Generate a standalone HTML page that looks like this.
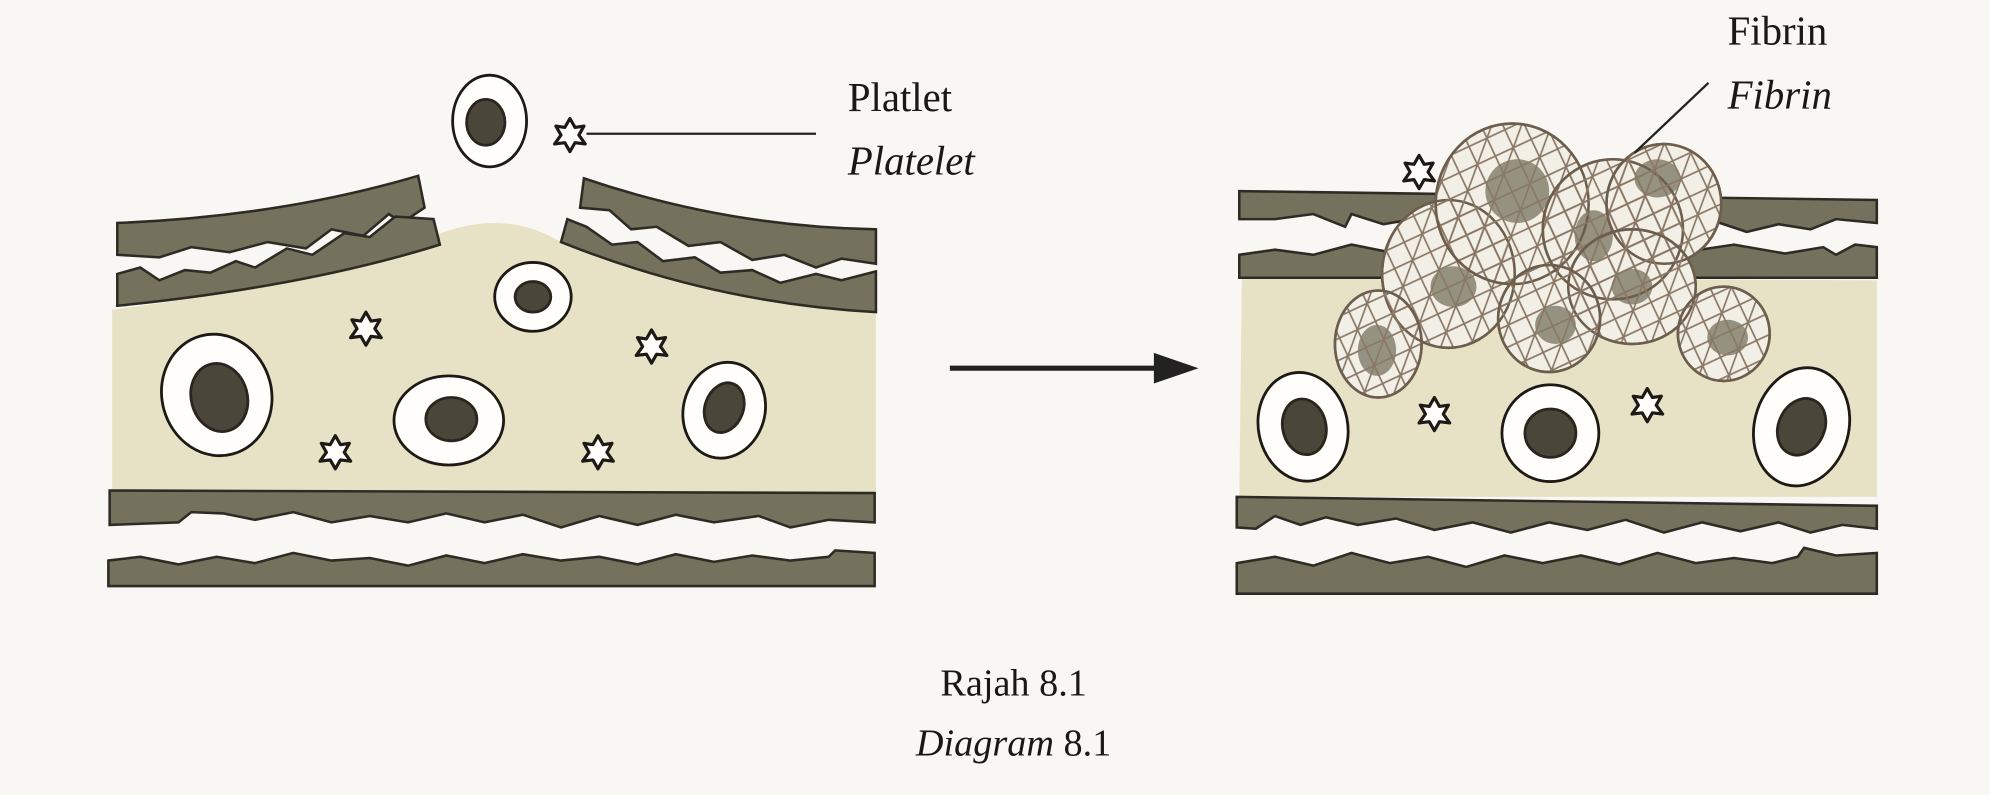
<!DOCTYPE html>
<html><head><meta charset="utf-8"><style>
html,body{margin:0;padding:0;background:#f8f7f3;}
svg{display:block}
text{font-family:"Liberation Serif",serif;fill:#1a1714}
</style></head><body>
<svg width="1989" height="795" viewBox="0 0 1560 624" preserveAspectRatio="none" xmlns="http://www.w3.org/2000/svg">
<defs>
<pattern id="mesh" width="22" height="22" patternUnits="userSpaceOnUse" patternTransform="rotate(20)">
<path d="M0 0L22 22M22 0L0 22M11 0V22" stroke="#8a7866" stroke-width="1.3"/>
</pattern>
<path id="pl" d="M0 -13 L4 -6 L11 -7 L7 0 L12 7 L4 6 L0 13 L-4 6 L-12 7 L-7 0 L-11 -7 L-4 -6 Z"/>
</defs>
<rect width="1560" height="624" fill="#f8f7f3"/>
<g stroke="#2e2b24" stroke-width="2">
<path d="M88 243 Q230 225 330 190 Q390 160 440 190 Q560 235 687 245 L687 387 L88 387 Z" fill="#e7e2c6" stroke="none"/>
<path d="M92 175 Q220 170 328 138 L333 163 L315 175 L305 168 L285 185 L260 180 L240 195 L210 190 L180 198 L150 194 L125 202 L92 200 Z" fill="#74725d"/>
<path d="M92 215 L110 210 L125 220 L145 212 L165 214 L185 205 L200 210 L225 195 L245 200 L270 183 L290 186 L310 170 L340 172 L345 192 Q240 225 92 240 Z" fill="#74725d"/>
<path d="M458 140 Q570 178 687 180 L687 207 L660 203 L640 210 L615 200 L590 204 L565 190 L540 193 L515 178 L495 180 L478 165 L455 163 Z" fill="#74725d"/>
<path d="M445 172 L460 178 L480 192 L500 190 L520 205 L545 202 L565 214 L590 212 L612 222 L640 215 L660 220 L687 213 L687 245 Q560 238 440 190 Z" fill="#74725d"/>
<path d="M86 385 L686 387 L686 410 L650 408 L620 414 L595 405 L560 410 L530 404 L500 412 L470 405 L440 414 L410 404 L380 410 L350 403 L320 410 L290 405 L260 410 L230 402 L200 408 L175 403 L150 402 L140 410 L86 412 Z" fill="#74725d"/>
<path d="M85 440 L110 437 L140 443 L170 437 L200 442 L230 434 L260 440 L290 438 L320 444 L350 436 L380 442 L410 435 L440 440 L470 437 L500 443 L530 435 L560 441 L590 436 L620 440 L650 437 L655 432 L686 434 L686 460 L85 460 Z" fill="#74725d"/>
<path d="M974 218 L1472 220 L1472 390 L972 390 Z" fill="#e7e2c6" stroke="none"/>
<path d="M972 150 L1472 157 L1472 175 L1440 172 L1420 180 L1395 176 L1370 182 L1340 172 L1300 178 L1270 170 L1240 176 L1200 170 L1160 174 L1120 170 L1085 176 L1060 168 L1055 178 L1030 168 L1000 172 L972 172 Z" fill="#74725d"/>
<path d="M972 200 L1000 196 L1030 200 L1060 192 L1090 198 L1120 192 L1160 198 L1200 192 L1240 198 L1280 192 L1320 198 L1360 192 L1400 199 L1430 194 L1440 200 L1455 192 L1472 194 L1472 218 L972 218 Z" fill="#74725d"/>
<path d="M970 390 L1472 397 L1472 415 L1445 412 L1420 418 L1395 410 L1365 417 L1335 410 L1305 418 L1275 408 L1245 416 L1215 410 L1185 418 L1155 410 L1125 416 L1095 407 L1065 412 L1040 406 L1020 412 L1000 405 L985 415 L970 414 Z" fill="#74725d"/>
<path d="M970 442 L1000 437 L1030 444 L1060 434 L1090 442 L1120 437 L1150 445 L1180 436 L1210 442 L1240 436 L1270 443 L1300 434 L1330 442 L1360 438 L1390 442 L1410 437 L1415 430 L1440 436 L1472 434 L1472 466 L970 466 Z" fill="#74725d"/>
</g>
<g stroke="#1d1a15" stroke-width="2.2">
<g fill="#fffefa">
<ellipse cx="384" cy="95" rx="29" ry="36"/>
<ellipse cx="170" cy="310" rx="43" ry="48" transform="rotate(-15 170 310)"/>
<ellipse cx="352" cy="330" rx="43" ry="35"/>
<ellipse cx="568" cy="322" rx="32" ry="38" transform="rotate(15 568 322)"/>
<ellipse cx="418" cy="233" rx="30" ry="27"/>
<ellipse cx="1022" cy="335" rx="35" ry="43" transform="rotate(-12 1022 335)"/>
<ellipse cx="1216" cy="340" rx="38" ry="38"/>
<ellipse cx="1413" cy="335" rx="37" ry="47" transform="rotate(15 1413 335)"/>
</g>
<g fill="#4a463a" stroke="#2a261f">
<ellipse cx="381" cy="96" rx="15" ry="18"/>
<ellipse cx="172" cy="312" rx="22" ry="27" transform="rotate(-15 172 312)"/>
<ellipse cx="354" cy="329" rx="20" ry="17"/>
<ellipse cx="568" cy="320" rx="15" ry="20" transform="rotate(20 568 320)"/>
<ellipse cx="418" cy="233" rx="14" ry="12"/>
<ellipse cx="1023" cy="335" rx="17" ry="22" transform="rotate(-12 1023 335)"/>
<ellipse cx="1216" cy="340" rx="20" ry="19"/>
<ellipse cx="1413" cy="335" rx="18" ry="23" transform="rotate(25 1413 335)"/>
</g>
</g>
<g fill="#fffefa" stroke="#1d1a15" stroke-width="2.5" stroke-linejoin="round">
<use href="#pl" x="447" y="106"/>
<use href="#pl" x="287" y="258"/>
<use href="#pl" x="511" y="272"/>
<use href="#pl" x="263" y="355"/>
<use href="#pl" x="469" y="355"/>
<use href="#pl" x="1125" y="325"/>
<use href="#pl" x="1292" y="318"/>
<use href="#pl" x="1113" y="135"/>
</g>
<g stroke="#6d5d4c" stroke-width="2">
<g fill="#f2efe6">
<ellipse cx="1136" cy="215" rx="52" ry="58"/>
<ellipse cx="1186" cy="160" rx="60" ry="63"/>
<ellipse cx="1265" cy="180" rx="55" ry="55"/>
<ellipse cx="1305" cy="160" rx="45" ry="47"/>
<ellipse cx="1280" cy="225" rx="50" ry="45"/>
<ellipse cx="1215" cy="250" rx="40" ry="42"/>
<ellipse cx="1081" cy="270" rx="34" ry="42"/>
<ellipse cx="1352" cy="262" rx="36" ry="37"/>
</g>
<g fill="#77735f" stroke="none" opacity="0.75">
<ellipse cx="1190" cy="150" rx="25" ry="25"/>
<ellipse cx="1140" cy="225" rx="18" ry="16"/>
<ellipse cx="1250" cy="185" rx="15" ry="20"/>
<ellipse cx="1300" cy="140" rx="18" ry="15"/>
<ellipse cx="1280" cy="225" rx="16" ry="14"/>
<ellipse cx="1220" cy="255" rx="16" ry="15"/>
<ellipse cx="1080" cy="275" rx="15" ry="20"/>
<ellipse cx="1355" cy="265" rx="16" ry="14"/>
</g>
<g fill="url(#mesh)">
<ellipse cx="1136" cy="215" rx="52" ry="58"/>
<ellipse cx="1186" cy="160" rx="60" ry="63"/>
<ellipse cx="1265" cy="180" rx="55" ry="55"/>
<ellipse cx="1305" cy="160" rx="45" ry="47"/>
<ellipse cx="1280" cy="225" rx="50" ry="45"/>
<ellipse cx="1215" cy="250" rx="40" ry="42"/>
<ellipse cx="1081" cy="270" rx="34" ry="42"/>
<ellipse cx="1352" cy="262" rx="36" ry="37"/>
</g>
</g>
<line x1="745" y1="289" x2="912" y2="289" stroke="#222" stroke-width="4"/>
<path d="M905 277 L940 289 L905 301 Z" fill="#222"/>
<line x1="460" y1="105" x2="640" y2="105" stroke="#222" stroke-width="1.8"/>
<line x1="1340" y1="65" x2="1282" y2="120" stroke="#222" stroke-width="1.8"/>
<text x="665" y="87" font-size="32">Platlet</text>
<text x="665" y="137" font-size="32" font-style="italic">Platelet</text>
<text x="1355" y="35" font-size="32">Fibrin</text>
<text x="1355" y="85" font-size="32" font-style="italic">Fibrin</text>
<text x="795" y="546" font-size="30" text-anchor="middle">Rajah 8.1</text>
<text x="795" y="593" font-size="30" text-anchor="middle"><tspan font-style="italic">Diagram</tspan> 8.1</text>
</svg>
</body></html>
